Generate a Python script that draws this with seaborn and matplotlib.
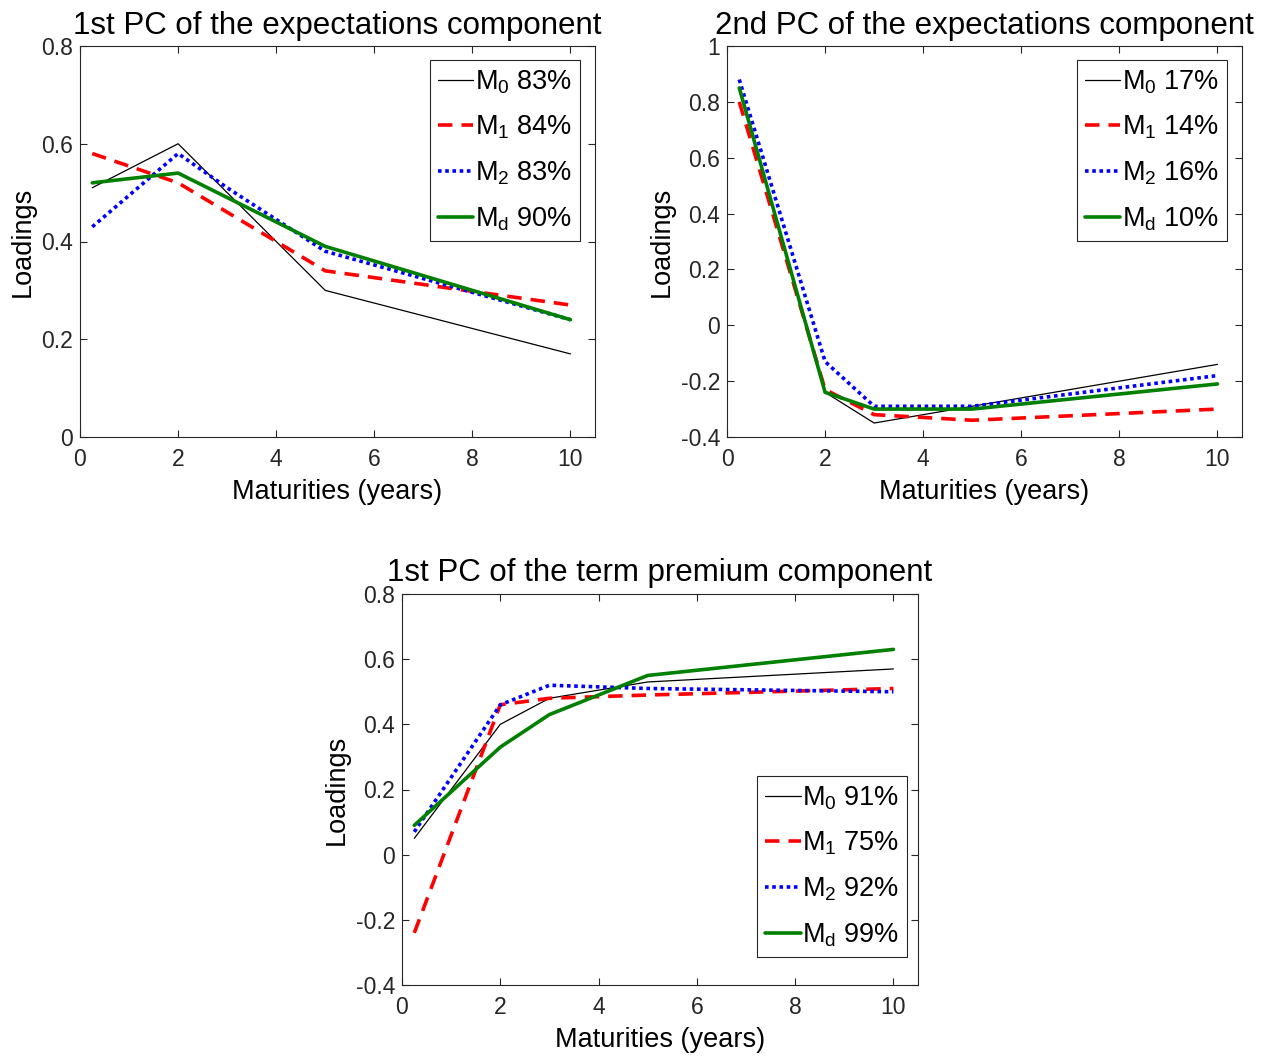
import seaborn as sns
import matplotlib.pyplot as plt
import pandas as pd
import numpy as np
from matplotlib.ticker import FuncFormatter

# Maturities (years)
maturities = [0.25, 2, 3, 5, 10]

# 1st PC of the expectations component
exp1_m0 = [0.51, 0.60, 0.50, 0.30, 0.17]
exp1_m1 = [0.58, 0.52, 0.46, 0.34, 0.27]
exp1_m2 = [0.43, 0.58, 0.51, 0.38, 0.24]
exp1_md = [0.52, 0.54, 0.49, 0.39, 0.24]
exp1_share = ['83%', '84%', '83%', '90%']

# 2nd PC of the expectations component
exp2_m0 = [0.85, -0.24, -0.35, -0.29, -0.14]
exp2_m1 = [0.80, -0.23, -0.32, -0.34, -0.30]
exp2_m2 = [0.88, -0.13, -0.29, -0.29, -0.18]
exp2_md = [0.85, -0.24, -0.30, -0.30, -0.21]
exp2_share = ['17%', '14%', '16%', '10%']

# 1st PC of the term premium component
tp1_m0 = [0.05, 0.40, 0.48, 0.53, 0.57]
tp1_m1 = [-0.24, 0.46, 0.48, 0.49, 0.51]
tp1_m2 = [0.07, 0.46, 0.52, 0.51, 0.50]
tp1_md = [0.09, 0.33, 0.43, 0.55, 0.63]
tp1_share = ['91%', '75%', '92%', '99%']

model_names = ['M$_0$', 'M$_1$', 'M$_2$', 'M$_d$']

sns.set_style('ticks')
plt.rcParams['font.family'] = ['Liberation Sans', 'DejaVu Sans']
plt.rcParams['mathtext.fontset'] = 'custom'
plt.rcParams['mathtext.rm'] = 'Liberation Sans'
plt.rcParams['mathtext.it'] = 'Liberation Sans'
plt.rcParams['mathtext.default'] = 'regular'
plt.rcParams['axes.unicode_minus'] = False

styles = [
    dict(color='black', linestyle='-', linewidth=0.9),
    dict(color='#ff0000', linestyle=(0, (4, 2.5)), linewidth=2.6),
    dict(color='#0000ff', linestyle=(0, (1, 1)), linewidth=2.6),
    dict(color='#008000', linestyle='-', linewidth=2.6),
]

fig = plt.figure(figsize=(12.71, 10.57), dpi=100)
W, H = 1271, 1057


def make_axes(left, top, right, bottom):
    return fig.add_axes([left / W, 1 - bottom / H, (right - left) / W, (bottom - top) / H])


def draw_panel(ax, series, shares, title, ylim, yticks, legend_loc, anchor):
    for vals, name, share, st in zip(series, model_names, shares, styles):
        sns.lineplot(x=maturities, y=vals, ax=ax, label=f'{name} {share}', **st)
    ax.set_xlim(0, 10.5)
    ax.set_ylim(*ylim)
    ax.set_xticks([0, 2, 4, 6, 8, 10])
    ax.set_yticks(yticks)
    ax.yaxis.set_major_formatter(FuncFormatter(lambda v, p: f'{v:g}' if abs(v) > 1e-9 else '0'))
    ax.tick_params(direction='in', top=True, right=True, length=5, width=0.8,
                   labelsize=16.5, colors='#262626')
    ax.tick_params(axis='x', pad=8)
    ax.tick_params(axis='y', pad=5)
    for sp in ax.spines.values():
        sp.set_visible(True)
        sp.set_color('#262626')
        sp.set_linewidth(0.8)
    ax.set_title(title, fontsize=22.5, pad=9, color='black')
    ax.set_xlabel('Maturities (years)', fontsize=19.5, color='black', labelpad=6)
    ax.set_ylabel('Loadings', fontsize=19.5, color='black', labelpad=4)
    leg = ax.legend(loc=legend_loc, bbox_to_anchor=anchor, fontsize=19.5,
                    handlelength=1.3, handletextpad=0.05, borderpad=0.3,
                    labelspacing=0.67, fancybox=False, framealpha=1,
                    edgecolor='#262626', borderaxespad=0, labelcolor='black')
    leg.get_frame().set_linewidth(0.8)


ax1 = make_axes(80, 46, 595, 437)
draw_panel(ax1, [exp1_m0, exp1_m1, exp1_m2, exp1_md], exp1_share,
           '1st PC of the expectations component', (0, 0.8),
           [0, 0.2, 0.4, 0.6, 0.8], 'upper right', (0.971, 0.964))

ax2 = make_axes(727, 46, 1242, 437)
draw_panel(ax2, [exp2_m0, exp2_m1, exp2_m2, exp2_md], exp2_share,
           '2nd PC of the expectations component', (-0.4, 1),
           [-0.4, -0.2, 0, 0.2, 0.4, 0.6, 0.8, 1], 'upper right', (0.971, 0.964))

ax3 = make_axes(402, 594, 918, 985)
draw_panel(ax3, [tp1_m0, tp1_m1, tp1_m2, tp1_md], tp1_share,
           '1st PC of the term premium component', (-0.4, 0.8),
           [-0.4, -0.2, 0, 0.2, 0.4, 0.6, 0.8], 'lower right', (0.979, 0.072))

plt.savefig('out.png', dpi=100, facecolor='white')
plt.close()
